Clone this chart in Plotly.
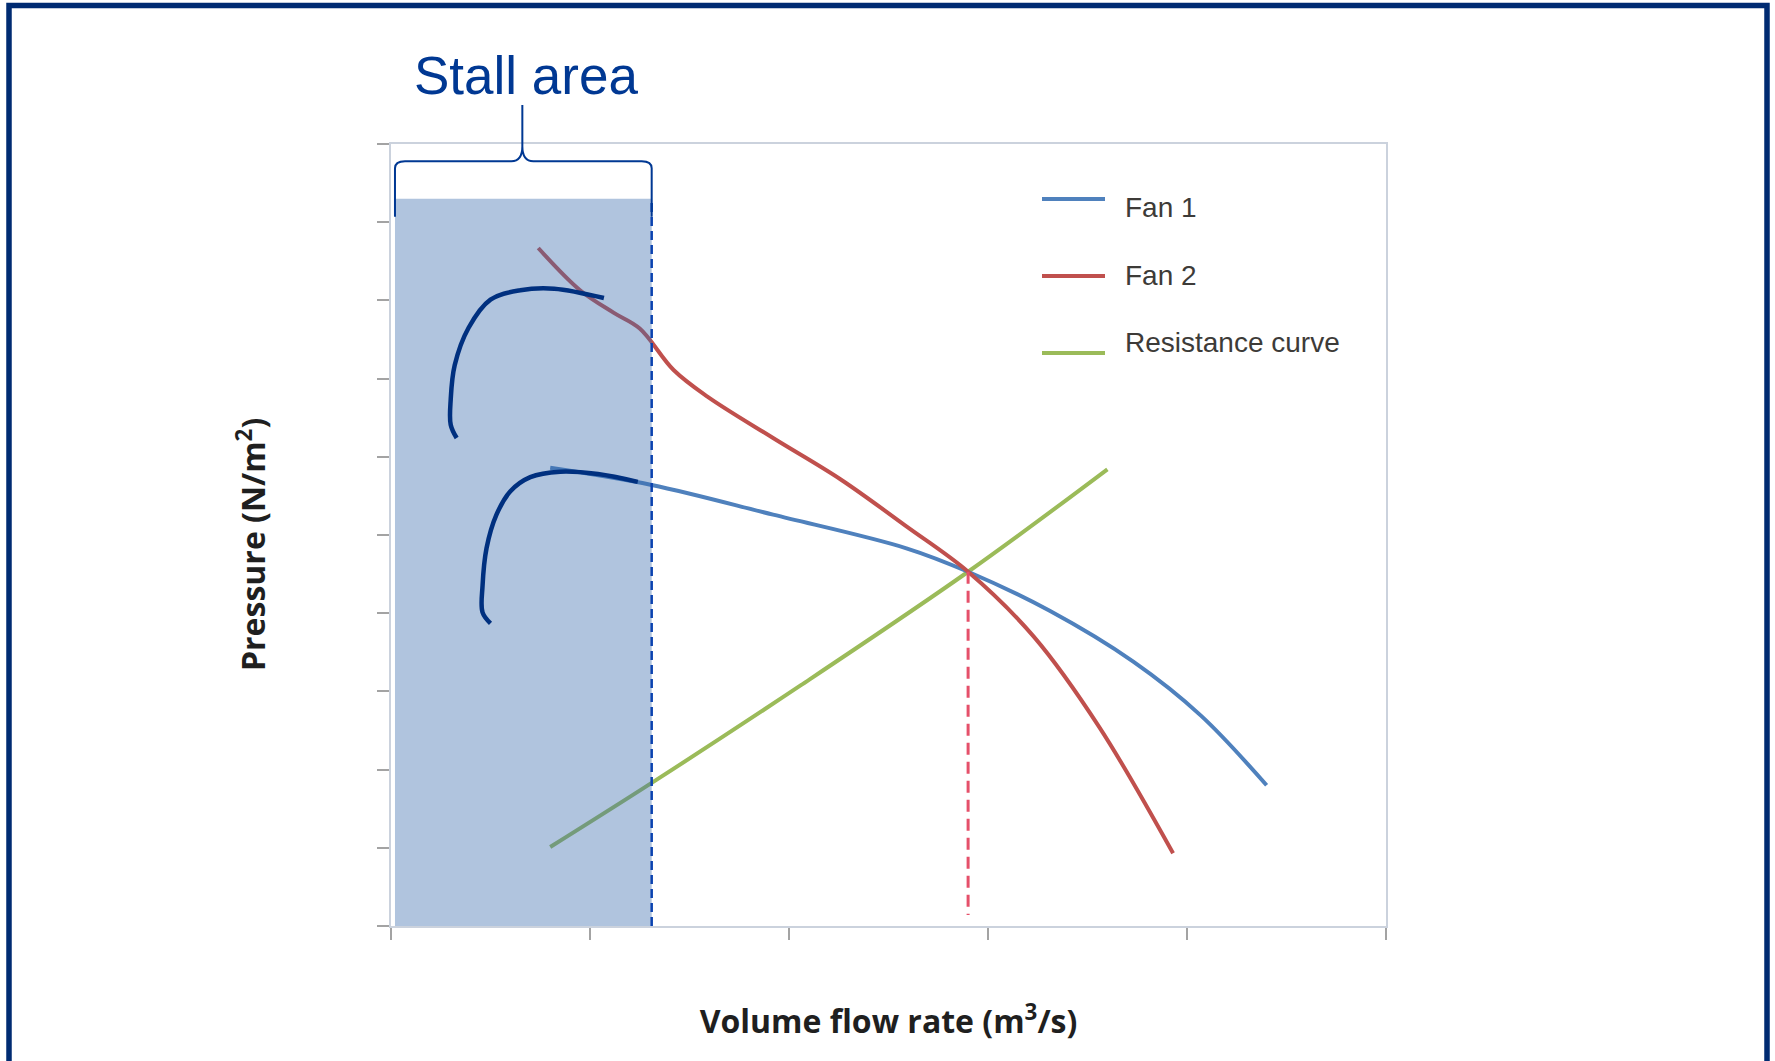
import plotly.graph_objects as go

# ---- axes -------------------------------------------------------------
X_RANGE = [0, 5]
Y_RANGE = [0, 10]
X_TICKS = [0, 1, 2, 3, 4, 5]
Y_TICKS = [0, 1, 2, 3, 4, 5, 6, 7, 8, 9, 10]

# ---- fan characteristics and system resistance ----------------------------
fan1_flow = [0.80, 1.31, 1.92, 2.59, 2.90, 3.31, 3.73, 4.07, 4.40]
fan1_pressure = [5.86, 5.64, 5.26, 4.83, 4.53, 4.03, 3.38, 2.69, 1.80]

fan2_flow = [0.74, 0.95, 1.12, 1.25, 1.42, 1.59, 1.92, 2.26, 2.59, 2.90, 3.23, 3.56, 3.93]
fan2_pressure = [8.67, 8.13, 7.84, 7.64, 7.11, 6.77, 6.24, 5.71, 5.11, 4.53, 3.70, 2.54, 0.93]

resistance_flow = [0.80, 1.31, 2.06, 2.90, 3.60]
resistance_pressure = [1.01, 1.83, 3.08, 4.53, 5.84]

# operating point (where the fan curves meet the resistance curve)
operating_flow = 2.90
operating_pressure = 4.53
operating_floor = 0.14

# ---- stall region and the sketched stall hooks ----------------------------
stall_flow = [0.02, 1.31]
stall_top = 9.30

hook_upper_flow = [0.33, 0.30, 0.30, 0.32, 0.39, 0.50, 0.65, 0.82, 1.07]
hook_upper_pressure = [6.24, 6.41, 6.73, 7.17, 7.65, 8.01, 8.13, 8.15, 8.03]
hook_lower_flow = [0.50, 0.46, 0.46, 0.48, 0.53, 0.60, 0.70, 0.85, 1.04, 1.24]
hook_lower_pressure = [3.87, 4.01, 4.35, 4.83, 5.26, 5.56, 5.74, 5.81, 5.78, 5.68]

# brace above the stall region (pressure levels above the axis top)
brace_mid_flow = 0.66
brace_end_level = 9.07
brace_bar_level = 9.78
brace_peak_level = 10.50

series_names = ["Fan 1", "Fan 2", "Resistance curve"]
series_colors = ["#4F81BD", "#C0504D", "#9BBB59"]

# ---- page geometry ----------------------------------------------------------
W, H = 1775, 1061
M_L, M_R, M_T, M_B = 391, 389, 144, 135
PLOT_W = W - M_L - M_R
PLOT_H = H - M_T - M_B

NAVY = "#002B72"
ANNOT_BLUE = "#003893"
SKETCH = "#00307F"


def px_x(px):
    return (px - M_L) / PLOT_W


def px_y(py):
    return (H - M_B - py) / PLOT_H


def dx(v):
    return (v - X_RANGE[0]) / (X_RANGE[1] - X_RANGE[0])


def dy(v):
    return (v - Y_RANGE[0]) / (Y_RANGE[1] - Y_RANGE[0])


fig = go.Figure()

fig.add_trace(go.Scatter(x=resistance_flow, y=resistance_pressure, mode="lines",
                         line=dict(color=series_colors[2], width=4, shape="spline"),
                         name=series_names[2], showlegend=False, hoverinfo="skip"))
fig.add_trace(go.Scatter(x=fan1_flow, y=fan1_pressure, mode="lines",
                         line=dict(color=series_colors[0], width=4, shape="spline"),
                         name=series_names[0], showlegend=False, hoverinfo="skip"))
fig.add_trace(go.Scatter(x=fan2_flow, y=fan2_pressure, mode="lines",
                         line=dict(color=series_colors[1], width=4, shape="spline"),
                         name=series_names[1], showlegend=False, hoverinfo="skip"))

# drop line from the operating point
fig.add_trace(go.Scatter(x=[operating_flow, operating_flow],
                         y=[operating_pressure, operating_floor], mode="lines",
                         line=dict(color="#E5506A", width=3, dash="12px,7px"),
                         showlegend=False, hoverinfo="skip"))

# translucent stall band over the curves
fig.add_trace(go.Scatter(x=[stall_flow[0], stall_flow[1], stall_flow[1], stall_flow[0], stall_flow[0]],
                         y=[Y_RANGE[0], Y_RANGE[0], stall_top, stall_top, Y_RANGE[0]],
                         mode="none", fill="toself",
                         fillcolor="rgba(58,108,173,0.40)",
                         showlegend=False, hoverinfo="skip"))
fig.add_trace(go.Scatter(x=[stall_flow[1], stall_flow[1]], y=[Y_RANGE[0], stall_top],
                         mode="lines", line=dict(color="#0A42B0", width=2.5, dash="9px,5px"),
                         showlegend=False, hoverinfo="skip"))

# sketched stall hooks
for hx, hy in ((hook_upper_flow, hook_upper_pressure), (hook_lower_flow, hook_lower_pressure)):
    fig.add_trace(go.Scatter(x=hx, y=hy, mode="lines",
                             line=dict(color=SKETCH, width=4.5, shape="spline", smoothing=1),
                             showlegend=False, hoverinfo="skip"))

# brace over the stall band
xl, xr, xm = dx(stall_flow[0]), dx(stall_flow[1]), dx(brace_mid_flow)
ye, yb, yp = dy(brace_end_level), dy(brace_bar_level), dy(brace_peak_level)
rx = 10 / PLOT_W
ry = 7 / PLOT_H
rc = 11 / PLOT_W
cc = 15 / PLOT_H
brace_path = (f"M{xl},{ye} L{xl},{yb - ry} Q{xl},{yb} {xl + rx},{yb} "
              f"L{xm - rc},{yb} Q{xm},{yb} {xm},{yb + cc} L{xm},{yp} "
              f"M{xm},{yb + cc} Q{xm},{yb} {xm + rc},{yb} "
              f"L{xr - rx},{yb} Q{xr},{yb} {xr},{yb - ry} L{xr},{ye}")

shapes = [
    dict(type="path", xref="paper", yref="paper", path=brace_path,
         line=dict(color=ANNOT_BLUE, width=2)),
    # page frame
    dict(type="rect", xref="paper", yref="paper",
         x0=px_x(9), x1=px_x(1767), y0=px_y(1090), y1=px_y(5.5),
         line=dict(color=NAVY, width=5.5), fillcolor="rgba(0,0,0,0)"),
]

title_font = dict(family="Open Sans, sans-serif", size=32, color="#1f1f1f", weight="bold")

annotations = [
    dict(text="Stall area", xref="x", yref="paper", x=brace_mid_flow + 0.02,
         y=px_y(75), xanchor="center", yanchor="middle", showarrow=False,
         font=dict(family="Liberation Sans, Arial, sans-serif", size=53, color=ANNOT_BLUE)),
    # pressure axis title, set slightly below the axis midpoint
    dict(text="Pressure (N/m<sup>2</sup>)", xref="paper", yref="paper",
         x=px_x(251), y=px_y(545), textangle=-90, xanchor="center", yanchor="middle",
         showarrow=False, font=title_font),
]

# legend drawn beside the curves
legend_line_px = [199, 276, 353]
legend_text_px = [208, 275, 342]
for name, color, ly, ty in zip(series_names, series_colors, legend_line_px, legend_text_px):
    shapes.append(dict(type="line", xref="paper", yref="paper",
                       x0=px_x(1042), x1=px_x(1105), y0=px_y(ly), y1=px_y(ly),
                       line=dict(color=color, width=4)))
    annotations.append(dict(text=name, xref="paper", yref="paper", x=px_x(1122.5), y=px_y(ty),
                            xanchor="left", yanchor="middle", showarrow=False,
                            font=dict(family="Liberation Sans, Arial, sans-serif", size=28,
                                      color="#3d3b38")))

axis_common = dict(showgrid=False, zeroline=False, showline=True, linecolor="#CBD2DD",
                   linewidth=2, mirror=True, ticks="outside", ticklen=12, tickwidth=2,
                   tickcolor="#A3A3A3", showticklabels=False, fixedrange=True)

fig.update_layout(
    width=W, height=H,
    margin=dict(l=M_L, r=M_R, t=M_T, b=M_B),
    paper_bgcolor="white", plot_bgcolor="white",
    showlegend=False,
    xaxis=dict(range=X_RANGE, tickvals=X_TICKS,
               title=dict(text="Volume flow rate (m<sup>3</sup>/s)", font=title_font, standoff=72),
               **axis_common),
    yaxis=dict(range=Y_RANGE, tickvals=Y_TICKS, **axis_common),
    shapes=shapes,
    annotations=annotations,
)

fig.write_html("out.html")
